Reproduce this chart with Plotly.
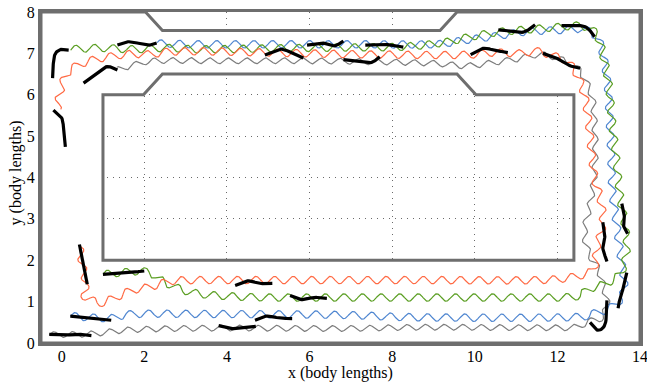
import numpy as np
import plotly.graph_objects as go

# ---------------- data (body lengths) ----------------
x_ticks = [0, 2, 4, 6, 8, 10, 12, 14]
y_ticks = [0, 1, 2, 3, 4, 5, 6, 7, 8]

# tank walls
outer_wall = [(-0.5, 0), (14, 0), (14, 8), (9.57, 8), (9.16, 7.55), (2.44, 7.55), (2.03, 8), (-0.5, 8)]
inner_wall = [(1.0, 2.0), (12.4, 2.0), (12.4, 6.0), (10.03, 6.0), (9.57, 6.5), (2.44, 6.5), (1.98, 6.0), (1.0, 6.0)]

# centre lines of the four swimmer trajectories
gray_path = [(-0.3, 0.2), (0.7, 0.22), (1.7, 0.32), (3.8, 0.36), (6.7, 0.35), (8.7, 0.38), (11.5, 0.37),
             (12.4, 0.38), (12.75, 0.52), (13.05, 0.6), (13.2, 0.95), (13.12, 1.35), (12.98, 1.8),
             (12.75, 2.2), (12.66, 2.7), (12.78, 3.3), (12.88, 3.9), (12.92, 4.6), (12.9, 5.3),
             (12.85, 5.9), (12.7, 6.3), (12.5, 6.62), (12.1, 6.85), (11.6, 6.97), (11.1, 6.88),
             (10.6, 6.8), (9.8, 6.7), (9.0, 6.76), (7.4, 6.8), (5.8, 6.82), (4.0, 6.82), (2.3, 6.82),
             (1.75, 6.72), (1.35, 6.6)]
blue_path = [(0.21, 0.65), (1.2, 0.6), (1.75, 0.7), (3.8, 0.7), (6.7, 0.68), (8.7, 0.62), (12.2, 0.62),
             (12.87, 0.71), (13.3, 0.86), (13.55, 1.1), (13.62, 1.45), (13.56, 1.9), (13.48, 2.5),
             (13.4, 3.13), (13.33, 3.7), (13.3, 4.6), (13.26, 5.5), (13.22, 6.2), (13.12, 6.9),
             (12.96, 7.38), (12.6, 7.58), (12.0, 7.56), (11.3, 7.53), (10.6, 7.43), (10.0, 7.35),
             (9.5, 7.28), (9.0, 7.22), (7.0, 7.22), (5.0, 7.22), (3.36, 7.22), (2.31, 7.24)]
green_path = [(1.0, 1.66), (2.0, 1.73), (2.4, 1.52), (2.88, 1.3), (3.4, 1.18), (4.3, 1.12), (5.1, 1.1),
              (7.0, 1.1), (9.0, 1.1), (11.0, 1.1), (12.4, 1.12), (12.75, 1.3), (13.2, 1.45),
              (13.55, 1.72), (13.68, 2.3), (13.62, 2.95), (13.52, 3.53), (13.42, 4.5), (13.32, 5.4),
              (13.25, 6.2), (13.12, 6.9), (12.95, 7.45), (12.6, 7.66), (12.07, 7.64), (11.34, 7.58),
              (10.6, 7.52), (9.9, 7.4), (9.16, 7.25), (8.2, 7.16), (6.6, 7.14), (5.0, 7.12),
              (3.36, 7.1), (2.55, 7.13), (1.74, 7.1), (0.94, 7.13), (0.21, 7.1)]
orange_path = [(0.43, 2.35), (0.5, 1.9), (0.58, 1.45), (0.55, 1.15), (0.72, 1.04), (0.95, 0.97),
               (1.3, 1.1), (1.7, 1.27), (2.15, 1.36), (2.7, 1.5), (3.4, 1.52), (5.0, 1.52),
               (7.0, 1.52), (9.0, 1.52), (11.5, 1.52), (12.38, 1.6), (12.86, 1.78), (12.96, 2.32),
               (13.1, 2.9), (13.05, 3.45), (12.9, 4.0), (12.82, 4.7), (12.75, 5.4), (12.65, 6.0),
               (12.47, 6.5), (12.2, 6.83), (11.9, 6.94), (11.5, 7.05), (11.1, 7.0), (10.5, 7.02),
               (9.9, 6.97), (9.0, 6.96), (8.0, 6.97), (7.0, 6.98), (6.0, 7.0), (5.0, 7.02),
               (3.4, 7.05), (2.6, 7.04), (2.15, 6.98), (1.6, 6.98), (0.94, 6.88), (0.53, 6.77),
               (0.21, 6.6), (0.05, 6.36), (-0.06, 5.95), (-0.1, 5.65)]

# black swimmer body snapshots
bodies = [
    [(-0.3, 0.21), (0.05, 0.19), (0.4, 0.21), (0.72, 0.18)],
    [(0.21, 0.65), (0.55, 0.62), (0.9, 0.58), (1.2, 0.55)],
    [(1.0, 1.66), (1.35, 1.68), (1.7, 1.71), (2.0, 1.74)],
    [(0.43, 2.38), (0.5, 2.0), (0.56, 1.7), (0.62, 1.42)],
    [(0.17, 7.08), (0.0, 7.1), (-0.15, 7.0), (-0.2, 6.77), (-0.22, 6.4)],
    [(-0.2, 5.63), (0.0, 5.44), (0.05, 5.15), (0.09, 4.74)],
    [(0.53, 6.28), (0.86, 6.53), (1.1, 6.68), (1.35, 6.6)],
    [(1.35, 7.2), (1.58, 7.28), (1.83, 7.25), (2.1, 7.2), (2.3, 7.25)],
    [(4.92, 6.96), (5.3, 7.1), (5.6, 7.0), (5.85, 6.89)],
    [(5.94, 7.2), (6.3, 7.25), (6.6, 7.18), (6.82, 7.3)],
    [(6.82, 6.85), (7.2, 6.8), (7.5, 6.78), (7.7, 6.92)],
    [(7.35, 7.2), (7.7, 7.22), (8.0, 7.2), (8.27, 7.15)],
    [(9.9, 6.97), (10.2, 7.12), (10.5, 7.07), (10.8, 7.02)],
    [(10.57, 7.57), (10.9, 7.53), (11.2, 7.52), (11.46, 7.69)],
    [(12.1, 7.67), (12.4, 7.68), (12.7, 7.63), (12.9, 7.4)],
    [(11.65, 7.0), (11.95, 6.9), (12.25, 6.72), (12.55, 6.64)],
    [(13.1, 2.92), (13.15, 2.6), (13.1, 2.3), (13.2, 1.97)],
    [(13.56, 3.37), (13.62, 3.1), (13.6, 2.85), (13.7, 2.64)],
    [(13.68, 1.7), (13.62, 1.4), (13.52, 1.1), (13.47, 0.84)],
    [(12.79, 0.5), (12.98, 0.31), (13.16, 0.47), (13.2, 1.03)],
    [(4.2, 1.39), (4.5, 1.5), (4.8, 1.44), (5.1, 1.44)],
    [(5.53, 1.15), (5.8, 1.05), (6.1, 1.1), (6.42, 1.08)],
    [(4.68, 0.55), (4.95, 0.65), (5.3, 0.6), (5.58, 0.59)],
    [(3.8, 0.42), (4.1, 0.35), (4.4, 0.38), (4.7, 0.4)],
]

# ---------------- helpers ----------------
def catmull(pts, per=14):
    P = np.array(pts, float)
    P = np.vstack([2 * P[0] - P[1], P, 2 * P[-1] - P[-2]])
    out = []
    for i in range(1, len(P) - 2):
        p0, p1, p2, p3 = P[i - 1], P[i], P[i + 1], P[i + 2]
        for t in np.linspace(0, 1, per, endpoint=False):
            t2, t3 = t * t, t * t * t
            out.append(0.5 * (2 * p1 + (-p0 + p2) * t + (2 * p0 - 5 * p1 + 4 * p2 - p3) * t2
                              + (-p0 + 3 * p1 - 3 * p2 + p3) * t3))
    out.append(P[-2])
    return np.array(out)


def undulate(pts, amp, wl=0.45):
    c = catmull(pts)
    d = np.r_[0, np.cumsum(np.hypot(*np.diff(c, axis=0).T))]
    s = np.arange(0, d[-1], 0.008)
    x = np.interp(s, d, c[:, 0])
    y = np.interp(s, d, c[:, 1])
    tx, ty = np.gradient(x), np.gradient(y)
    n = np.hypot(tx, ty)
    nx, ny = -ty / n, tx / n
    w = amp * np.sin(2 * np.pi * s / wl)
    return x + nx * w, y + ny * w


def poly_path(pts):
    return "M " + " L ".join(f"{x},{y}" for x, y in pts) + " Z"

# ---------------- figure ----------------
fig = go.Figure()

paths = [(gray_path, "#7d7d7d", 0.07), (blue_path, "#4f86d0", 0.09),
         (green_path, "#5a9e22", 0.09), (orange_path, "#ff6a44", 0.09)]
for pts, col, amp in paths:
    xx, yy = undulate(pts, amp)
    fig.add_trace(go.Scatter(x=xx, y=yy, mode="lines", line=dict(color=col, width=1.2),
                             hoverinfo="skip", showlegend=False))

for b in bodies:
    c = catmull(b, per=10)
    fig.add_trace(go.Scatter(x=c[:, 0], y=c[:, 1], mode="lines",
                             line=dict(color="black", width=3.2),
                             hoverinfo="skip", showlegend=False))

wall = "#6e6e6e"
fig.add_shape(type="path", xref="x", yref="y", layer="between",
              path=poly_path(outer_wall) + " " + poly_path(inner_wall),
              fillrule="evenodd", fillcolor="white",
              line=dict(color=wall, width=3))

font = "Liberation Serif"
grid = dict(showgrid=True, gridcolor="#6a6a6a", griddash="1px,5px", gridwidth=1,
            zeroline=False, showline=True, mirror=True, linecolor=wall, linewidth=3,
            ticks="", automargin=False, ticklabeloverflow="allow")
fig.update_layout(
    width=647, height=383,
    margin=dict(l=41, r=7, t=12, b=40),
    paper_bgcolor="white", plot_bgcolor="white",
    font=dict(family=font, size=16, color="black"),
    xaxis=dict(range=[-0.5, 14], tickvals=x_ticks, ticktext=[str(v) for v in x_ticks],
               ticklabelstandoff=-3, **grid),
    yaxis=dict(range=[0, 8], tickvals=y_ticks, ticktext=[str(v) for v in y_ticks], **grid),
    annotations=[
        dict(text="x (body lengths)", xref="paper", yref="paper", x=0.5, y=-0.12,
             xanchor="center", yanchor="bottom", showarrow=False, borderpad=0,
             font=dict(size=16)),
        dict(text="y (body lengths)", xref="paper", yref="paper", x=-0.042, y=0.515,
             xanchor="center", yanchor="middle", textangle=-90, showarrow=False, font=dict(size=16)),
    ],
)

fig.write_html("out.html")
